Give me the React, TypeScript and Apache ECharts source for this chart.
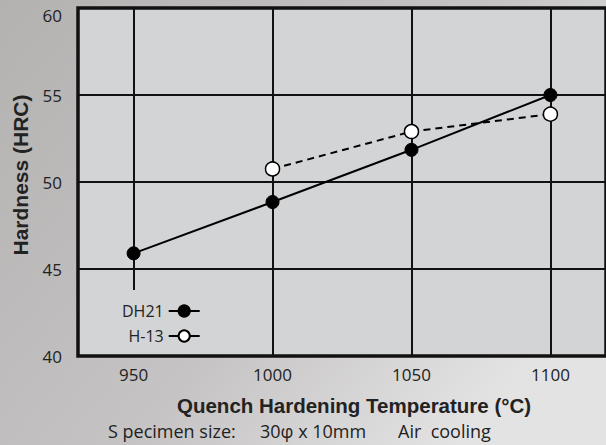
import React, { useEffect, useRef } from "react";
import * as echarts from "echarts";

const temperatures = [950, 1000, 1050, 1100];
const dh21Values = [45.9, 48.85, 51.85, 55.0];
const h13Temps = [1000, 1050, 1100];
const h13Values = [50.75, 52.9, 53.9];
const xTickLabels = [950, 1000, 1050, 1100];
const verticalGrid = [1000, 1050, 1100];

export default function App() {
  const ref = useRef<HTMLDivElement>(null);
  useEffect(() => {
    document.body.style.margin = "0";
    if (!ref.current) return;
    const chart = echarts.init(ref.current, null, { renderer: "svg" });
    const font = "'Open Sans', 'Noto Sans', sans-serif";
    const boldFont = "'Liberation Sans', Arial, sans-serif";
    chart.setOption({
      animation: false,
      backgroundColor: new echarts.graphic.LinearGradient(0, 0, 1, 0.6, [
        { offset: 0, color: "#b4b1b1" },
        { offset: 0.6, color: "#c5c3c3" },
        { offset: 1, color: "#e4e3e3" },
      ]),
      grid: {
        left: 78,
        right: -8,
        top: 8,
        bottom: 89,
        show: true,
        backgroundColor: "#d3d4d6",
        borderColor: "#111",
        borderWidth: 3.5,
      },
      xAxis: {
        type: "value",
        min: 930,
        max: 1120,
        axisLine: { show: false },
        axisTick: { show: false },
        splitLine: { show: false },
        axisLabel: {
          customValues: xTickLabels,
          formatter: (v: number) => String(v),
          margin: 10,
          fontSize: 17,
          color: "#222",
          fontFamily: font,
        },
      },
      yAxis: {
        type: "value",
        min: 40,
        max: 60,
        interval: 5,
        axisLine: { show: false },
        axisTick: { show: false },
        splitLine: { show: true, lineStyle: { color: "#111", width: 2 } },
        axisLabel: {
          margin: 16,
          fontSize: 17,
          color: "#222",
          fontFamily: font,
          formatter: (v: number) => (v === 60 ? "{t|60}" : String(v)),
          rich: {
            t: {
              fontSize: 17,
              color: "#222",
              fontFamily: font,
              padding: [14, 0, 0, 0],
            },
          },
        },
      },
      legend: {
        orient: "vertical",
        left: 117,
        top: 298,
        itemGap: 9,
        itemWidth: 31,
        itemHeight: 14,
        align: "right",
        lineStyle: { type: "solid", width: 2, color: "#000" },
        textStyle: {
          fontSize: 16,
          color: "#222",
          fontFamily: font,
          width: 42,
          align: "left",
        },
        data: ["DH21", "H-13"],
      },
      graphic: [
        {
          type: "text",
          x: 20,
          y: 175,
          rotation: Math.PI / 2,
          style: {
            text: "Hardness (HRC)",
            font: "bold 21px " + boldFont,
            fill: "#222",
            align: "center",
            verticalAlign: "middle",
          },
        },
        {
          type: "text",
          x: 177,
          y: 405,
          style: {
            text: "Quench Hardening Temperature (°C)",
            font: "bold 20.5px " + boldFont,
            fill: "#222",
            verticalAlign: "middle",
          },
        },
        {
          type: "text",
          x: 108,
          y: 431,
          style: {
            text: "S pecimen size:",
            font: "18px " + font,
            fill: "#222",
            verticalAlign: "middle",
          },
        },
        {
          type: "text",
          x: 260,
          y: 431,
          style: {
            text: "30φ x 10mm",
            font: "18px " + font,
            fill: "#222",
            verticalAlign: "middle",
          },
        },
        {
          type: "text",
          x: 398,
          y: 431,
          style: {
            text: "Air  cooling",
            font: "18px " + font,
            fill: "#222",
            verticalAlign: "middle",
          },
        },
      ],
      series: [
        {
          name: "DH21",
          type: "line",
          data: temperatures.map((t, i) => [t, dh21Values[i]]),
          symbol: "circle",
          symbolSize: 13,
          itemStyle: { color: "#000", borderColor: "#000", borderWidth: 1 },
          lineStyle: { color: "#000", width: 2 },
          z: 5,
          markLine: {
            silent: true,
            symbol: "none",
            label: { show: false },
            lineStyle: { color: "#111", width: 2, type: "solid" },
            z: 1,
            data: [
              ...verticalGrid.map((v) => ({ xAxis: v })),
              [{ coord: [950, 60] }, { coord: [950, 43.8] }],
            ],
          },
        },
        {
          name: "H-13",
          type: "line",
          data: h13Temps.map((t, i) => [t, h13Values[i]]),
          symbol: "circle",
          symbolSize: 14,
          itemStyle: { color: "#fff", borderColor: "#000", borderWidth: 1.5 },
          lineStyle: { color: "#000", width: 2, type: [7, 5] },
          z: 6,
        },
      ],
    });
    return () => chart.dispose();
  }, []);
  return <div ref={ref} style={{ width: 606, height: 445 }} />;
}
